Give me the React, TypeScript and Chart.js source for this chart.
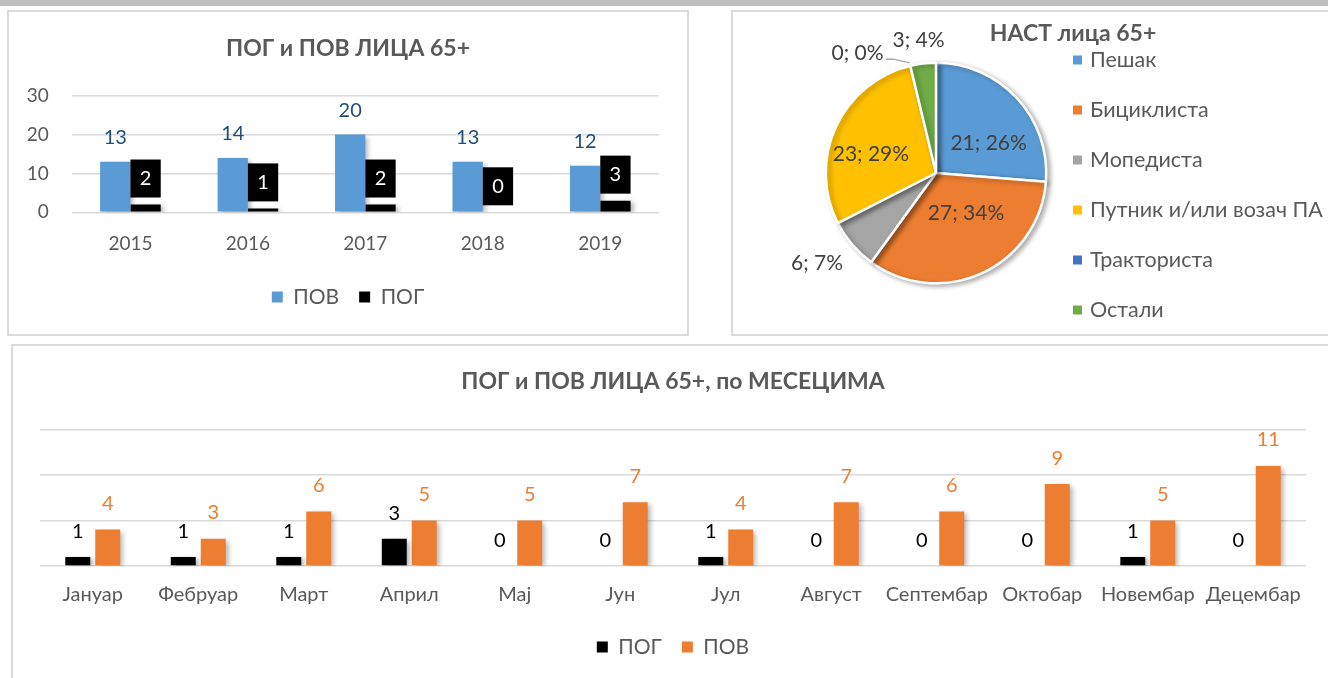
import React, { useEffect, useRef } from 'react';
import { Chart, registerables } from 'chart.js';

Chart.register(...registerables);

const FONT = 'Lato, "Open Sans", sans-serif';
const TEXT = '#595959';

// ---- top-left chart: by year
const years = ['2015', '2016', '2017', '2018', '2019'];
const povByYear = [13, 14, 20, 13, 12];
const pogByYear = [2, 1, 2, 0, 3];
const yearTicks = [0, 10, 20, 30];

// ---- pie chart
const pieLabels = ['Пешак', 'Бициклиста', 'Мопедиста', 'Путник и/или возач ПА', 'Тракториста', 'Остали'];
const pieValues = [21, 27, 6, 23, 0, 3];
const piePercentLabels = ['26%', '34%', '7%', '29%', '0%', '4%'];
const pieColors = ['#5b9bd5', '#ed7d31', '#a5a5a5', '#ffc000', '#4472c4', '#70ad47'];

// ---- bottom chart: by month
const months = ['Јануар', 'Фебруар', 'Март', 'Април', 'Мај', 'Јун', 'Јул', 'Август', 'Септембар', 'Октобар', 'Новембар', 'Децембар'];
const pogByMonth = [1, 1, 1, 3, 0, 0, 1, 0, 0, 0, 1, 0];
const povByMonth = [4, 3, 6, 5, 5, 7, 4, 7, 6, 9, 5, 11];

const shadowPlugin = {
  id: 'shadow',
  beforeDatasetsDraw(chart: any) {
    const ctx = chart.ctx;
    ctx.save();
    ctx.shadowColor = 'rgba(0,0,0,0.30)';
    ctx.shadowBlur = 5;
    ctx.shadowOffsetX = 3;
    ctx.shadowOffsetY = 2;
  },
  afterDatasetsDraw(chart: any) {
    chart.ctx.restore();
  },
};

const yearLabelsPlugin = {
  id: 'yearLabels',
  afterDatasetsDraw(chart: any) {
    const ctx = chart.ctx;
    ctx.save();
    ctx.font = `20px ${FONT}`;
    ctx.textAlign = 'center';
    ctx.textBaseline = 'middle';
    const m0 = chart.getDatasetMeta(0);
    m0.data.forEach((bar: any, i: number) => {
      ctx.fillStyle = '#1f4e79';
      ctx.fillText(String(povByYear[i]), bar.x, bar.y - 24);
    });
    const m1 = chart.getDatasetMeta(1);
    m1.data.forEach((bar: any, i: number) => {
      const w = bar.width;
      const bottom = bar.y - 7;
      const h = 38;
      ctx.fillStyle = '#000';
      ctx.fillRect(bar.x - w / 2, bottom - h, w, h);
      ctx.fillStyle = '#fff';
      ctx.fillText(String(pogByYear[i]), bar.x, bottom - h / 2);
    });
    ctx.restore();
  },
};

const monthLabelsPlugin = {
  id: 'monthLabels',
  afterDatasetsDraw(chart: any) {
    const ctx = chart.ctx;
    ctx.save();
    ctx.font = `20px ${FONT}`;
    ctx.textAlign = 'center';
    ctx.textBaseline = 'middle';
    const m0 = chart.getDatasetMeta(0);
    m0.data.forEach((bar: any, i: number) => {
      ctx.fillStyle = '#000';
      ctx.fillText(String(pogByMonth[i]), bar.x, bar.y - 25);
    });
    const m1 = chart.getDatasetMeta(1);
    m1.data.forEach((bar: any, i: number) => {
      ctx.fillStyle = '#ed7d31';
      ctx.fillText(String(povByMonth[i]), bar.x, bar.y - 26);
    });
    ctx.restore();
  },
};

const piePlugin = {
  id: 'pieExtras',
  afterDatasetsDraw(chart: any) {
    const ctx = chart.ctx;
    const meta = chart.getDatasetMeta(0);
    ctx.save();
    ctx.font = `21px ${FONT}`;
    ctx.textBaseline = 'middle';
    ctx.textAlign = 'center';
    ctx.fillStyle = '#404040';
    const outside: any[] = [];
    meta.data.forEach((arc: any, i: number) => {
      const p = arc.getProps(['x', 'y', 'startAngle', 'endAngle', 'outerRadius'], true);
      const mid = (p.startAngle + p.endAngle) / 2;
      const frac = (p.endAngle - p.startAngle) / (Math.PI * 2);
      const text = `${pieValues[i]}; ${piePercentLabels[i]}`;
      if (frac >= 0.1) {
        ctx.fillText(text, p.x + Math.cos(mid) * p.outerRadius * 0.65, p.y + Math.sin(mid) * p.outerRadius * 0.4);
      } else {
        outside.push({ i, p, mid, text });
      }
    });
    outside.sort((a, b) => pieValues[b.i] - pieValues[a.i]);
    const placed: any[] = [];
    const h = 22;
    outside.forEach((o) => {
      const { p, mid, text } = o;
      const w = ctx.measureText(text).width;
      const c = Math.cos(mid), s = Math.sin(mid);
      const ax = p.x + c * (p.outerRadius + 12);
      const ay = p.y + s * (p.outerRadius + 12);
      let cx = ax + (Math.abs(c) < 0.3 ? c : Math.sign(c)) * w / 2;
      let cy = ay + (Math.abs(s) < 0.3 ? s : Math.sign(s)) * h / 2;
      let leader = false;
      for (const r of placed) {
        const overlap = cx - w / 2 < r.x + r.w / 2 && cx + w / 2 > r.x - r.w / 2 && cy - h / 2 < r.y + r.h / 2 && cy + h / 2 > r.y - r.h / 2;
        if (overlap) {
          cx = r.x - r.w / 2 - 9 - w / 2;
          cy = ay - 1;
          leader = true;
        }
      }
      placed.push({ x: cx, y: cy, w, h });
      ctx.fillText(text, cx, cy);
      if (leader) {
        const ex = p.x + c * (p.outerRadius + 3);
        const ey = p.y + s * (p.outerRadius + 3);
        ctx.strokeStyle = '#a6a6a6';
        ctx.lineWidth = 1.5;
        ctx.beginPath();
        ctx.moveTo(cx + w / 2 + 2, cy + 6);
        ctx.lineTo(cx + w / 2 + 10, cy + 6);
        ctx.lineTo(ex, ey);
        ctx.stroke();
      }
    });
    ctx.restore();
  },
  afterDraw(chart: any) {
    const ctx = chart.ctx;
    ctx.save();
    ctx.textBaseline = 'middle';
    ctx.textAlign = 'center';
    ctx.fillStyle = TEXT;
    ctx.font = `bold 23px ${FONT}`;
    ctx.fillText('НАСТ лица 65+', 340, 22);
    ctx.textAlign = 'left';
    ctx.font = `21.5px ${FONT}`;
    pieLabels.forEach((lab, i) => {
      const cy = 48 + i * 50;
      ctx.fillStyle = pieColors[i];
      ctx.fillRect(340, cy - 4.5, 9, 9);
      ctx.fillStyle = TEXT;
      ctx.fillText(lab, 357, cy);
    });
    ctx.restore();
  },
};

const spacerAxis = (width: number) => ({
  position: 'right',
  display: true,
  grid: { display: false },
  border: { display: false },
  ticks: { display: false },
  afterFit: (s: any) => { s.width = width; },
});

export default function App() {
  const c1 = useRef<HTMLCanvasElement>(null);
  const c2 = useRef<HTMLCanvasElement>(null);
  const c3 = useRef<HTMLCanvasElement>(null);

  useEffect(() => {
    const legendFont = { family: FONT, size: 21 };
    const chart1 = new Chart(c1.current as HTMLCanvasElement, {
      type: 'bar',
      data: {
        labels: years,
        datasets: [
          { label: 'ПОВ', data: povByYear, backgroundColor: '#5b9bd5', categoryPercentage: 0.516, barPercentage: 1 },
          { label: 'ПОГ', data: pogByYear, backgroundColor: '#000000', categoryPercentage: 0.516, barPercentage: 1 },
        ],
      },
      options: {
        responsive: false,
        animation: false,
        layout: { padding: { top: 0, right: 0, bottom: 17.5, left: 0 } },
        plugins: {
          title: {
            display: true,
            text: 'ПОГ и ПОВ ЛИЦА 65+',
            color: TEXT,
            font: { family: FONT, size: 23, weight: 'bold', lineHeight: 1.2 },
            padding: { top: 24.2, bottom: 32.9 },
          },
          legend: {
            position: 'bottom',
            labels: { boxWidth: 11, boxHeight: 11, padding: 20, color: TEXT, font: legendFont },
          },
          tooltip: { enabled: false },
        },
        scales: {
          x: {
            grid: { display: false },
            border: { display: false },
            ticks: { color: TEXT, font: { family: FONT, size: 19 }, padding: 12 },
            afterFit: (s: any) => { s.height = 54.2; },
          },
          y: {
            min: 0,
            max: 30,
            afterBuildTicks: (s: any) => { s.ticks = yearTicks.map((v) => ({ value: v })); },
            ticks: { color: TEXT, font: { family: FONT, size: 19 }, padding: 23 },
            grid: { color: '#d9d9d9', lineWidth: 1.5, drawTicks: false },
            border: { display: false },
            afterFit: (s: any) => { s.width = 63.7; },
          },
          yr: spacerAxis(29),
        },
      } as any,
      plugins: [shadowPlugin, yearLabelsPlugin],
    });

    const chart2 = new Chart(c2.current as HTMLCanvasElement, {
      type: 'pie',
      data: {
        labels: pieLabels,
        datasets: [{ data: pieValues, backgroundColor: pieColors, borderColor: '#ffffff', borderWidth: 2.5 }],
      },
      options: {
        responsive: false,
        animation: false,
        layout: { padding: { left: 91.5, top: 49.5, right: 280.5, bottom: 49.5 } },
        plugins: { legend: { display: false }, title: { display: false }, tooltip: { enabled: false } },
      } as any,
      plugins: [shadowPlugin, piePlugin],
    });

    const chart3 = new Chart(c3.current as HTMLCanvasElement, {
      type: 'bar',
      data: {
        labels: months,
        datasets: [
          { label: 'ПОГ', data: pogByMonth, backgroundColor: '#000000', categoryPercentage: 0.568, barPercentage: 0.833 },
          { label: 'ПОВ', data: povByMonth, backgroundColor: '#ed7d31', categoryPercentage: 0.568, barPercentage: 0.833 },
        ],
      },
      options: {
        responsive: false,
        animation: false,
        layout: { padding: { top: 0, right: 0, bottom: 10.5, left: 0 } },
        plugins: {
          title: {
            display: true,
            text: 'ПОГ и ПОВ ЛИЦА 65+, по МЕСЕЦИМА',
            color: TEXT,
            font: { family: FONT, size: 23, weight: 'bold', lineHeight: 1.2 },
            padding: { top: 22.2, bottom: 33.7 },
          },
          legend: {
            position: 'bottom',
            labels: { boxWidth: 11, boxHeight: 11, padding: 20, color: TEXT, font: legendFont },
          },
          tooltip: { enabled: false },
        },
        scales: {
          x: {
            grid: { display: false },
            border: { display: false },
            ticks: { color: TEXT, font: { family: FONT, size: 20 }, padding: 9, maxRotation: 0, autoSkip: false },
            afterFit: (s: any) => { s.height = 50.5; },
          },
          y: {
            min: 0,
            max: 15,
            ticks: { display: false, stepSize: 5 },
            grid: { color: '#d9d9d9', lineWidth: 1.5, drawTicks: false },
            border: { display: false },
            afterFit: (s: any) => { s.width = 28; },
          },
          yr: spacerAxis(28),
        },
      } as any,
      plugins: [shadowPlugin, monthLabelsPlugin],
    });

    return () => {
      chart1.destroy();
      chart2.destroy();
      chart3.destroy();
    };
  }, []);

  const abs = (l: number, t: number, w: number, h: number, extra: any = {}) => ({
    position: 'absolute' as const, left: l, top: t, width: w, height: h, boxSizing: 'border-box' as const, ...extra,
  });

  return (
    <div style={abs(0, 0, 1328, 678, { overflow: 'hidden', background: '#ffffff' })}>
      <div style={abs(0, 0, 1328, 6, { background: '#bfbfbf' })} />
      <div style={abs(7, 10, 682, 326, { border: '2px solid #dadada' })} />
      <div style={abs(731, 10, 640, 326, { border: '2px solid #dadada' })} />
      <div style={abs(11, 344, 1360, 360, { border: '2px solid #dadada' })} />
      <canvas ref={c1} width={680} height={324} style={{ position: 'absolute', left: 8, top: 11 }} />
      <canvas ref={c2} width={595} height={322} style={{ position: 'absolute', left: 733, top: 12 }} />
      <canvas ref={c3} width={1322} height={332} style={{ position: 'absolute', left: 12, top: 346 }} />
    </div>
  );
}
